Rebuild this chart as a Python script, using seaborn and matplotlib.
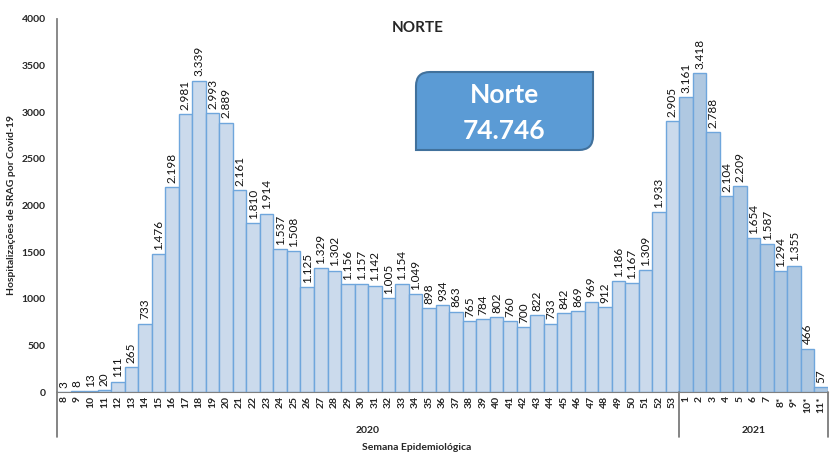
import matplotlib
matplotlib.use("Agg")
import matplotlib.pyplot as plt
from matplotlib.path import Path
from matplotlib.patches import PathPatch
import pandas as pd
import seaborn as sns

weeks_2020 = [str(w) for w in range(8, 54)]
values_2020 = [3, 8, 13, 20, 111, 265, 733, 1476, 2198, 2981, 3339, 2993, 2889,
               2161, 1810, 1914, 1537, 1508, 1125, 1329, 1302, 1156, 1157, 1142,
               1005, 1154, 1049, 898, 934, 863, 765, 784, 802, 760, 700, 822,
               733, 842, 869, 969, 912, 1186, 1167, 1309, 1933, 2905]
weeks_2021 = ["1", "2", "3", "4", "5", "6", "7", "8*", "9*", "10*", "11*"]
values_2021 = [3161, 3418, 2788, 2104, 2209, 1654, 1587, 1294, 1355, 466, 57]
total_label = "74.746"

df = pd.DataFrame({
    "semana": weeks_2020 + weeks_2021,
    "casos": values_2020 + values_2021,
    "ano": ["2020"] * len(weeks_2020) + ["2021"] * len(weeks_2021),
})

sns.set_style("white")
plt.rcParams["font.family"] = ["Lato", "DejaVu Sans"]

fig = plt.figure(figsize=(8.33, 4.62), dpi=100)
ax = fig.add_axes([0.0684, 0.1515, 0.9256, 0.8074])

sns.barplot(data=df, x="semana", y="casos", hue="ano", order=df["semana"],
            palette={"2020": "#c5daf1", "2021": "#a6c8ea"}, dodge=False,
            width=1.0, edgecolor="#6fa6dc", linewidth=1.0, legend=False, ax=ax)

for cont in ax.containers:
    ax.bar_label(cont, labels=[f"{int(v.get_height()):,}".replace(",", ".") for v in cont],
                 rotation=90, padding=3, fontsize=8.5, color="#111111")

ax.set_ylim(0, 4000)
ax.set_xlim(-0.5, len(df) - 0.5)
ax.set_yticks(range(0, 4001, 500))
ax.tick_params(axis="y", labelsize=7.5, length=0, pad=8)
ax.tick_params(axis="x", labelsize=7.5, length=0, rotation=90, pad=3)
for lab in ax.get_xticklabels() + ax.get_yticklabels():
    lab.set_fontweight("bold")
ax.set_xlabel("")
ax.set_ylabel("Hospitalizações de SRAG por Covid-19", fontsize=7.5, fontweight="bold")
ax.yaxis.set_label_coords(-0.053, 0.5)
for side in ["top", "right"]:
    ax.spines[side].set_visible(False)
ax.spines["left"].set_color("#808080")
ax.spines["bottom"].set_color("#808080")
ax.spines["left"].set_linewidth(1.3)

# year grouping under the category axis
n20 = len(weeks_2020)
for xv in [-0.5, n20 - 0.5, len(df) - 0.5]:
    ax.plot([xv, xv], [0, -0.12], transform=ax.get_xaxis_transform(),
            color="#707070", lw=1.2, clip_on=False)
ax.text((n20 - 1) / 2, -0.103, "2020", transform=ax.get_xaxis_transform(),
        ha="center", va="center", fontsize=7.5, fontweight="bold")
ax.text(n20 + (len(weeks_2021) - 1) / 2, -0.103, "2021", transform=ax.get_xaxis_transform(),
        ha="center", va="center", fontsize=7.5, fontweight="bold")
fig.text(0.5, 1 - 447 / 462, "Semana Epidemiológica", ha="center", va="center",
         fontsize=7.5, fontweight="bold")

fig.text(418 / 833, 1 - 28 / 462, "NORTE", ha="center", va="center",
         fontsize=11, fontweight="bold")

# total box: rounded top-left and bottom-right corners
x0, x1 = 416 / 833, 593 / 833
yb, yt = 1 - 150 / 462, 1 - 72 / 462
rx, ry = 14 / 833, 14 / 462
verts = [(x0 + rx, yt), (x1, yt), (x1, yb + ry), (x1, yb), (x1 - rx, yb),
         (x0, yb), (x0, yt - ry), (x0, yt), (x0 + rx, yt), (x0 + rx, yt)]
codes = [Path.MOVETO, Path.LINETO, Path.LINETO, Path.CURVE3, Path.CURVE3,
         Path.LINETO, Path.LINETO, Path.CURVE3, Path.CURVE3, Path.CLOSEPOLY]
fig.patches.append(PathPatch(Path(verts, codes), facecolor="#5b9bd5",
                             edgecolor="#41719c", lw=1.5, transform=fig.transFigure))
cx = (x0 + x1) / 2
fig.text(cx, 1 - 95 / 462, "Norte", ha="center", va="center", fontsize=19,
         fontweight="bold", color="white")
fig.text(cx, 1 - 131 / 462, total_label, ha="center", va="center", fontsize=19,
         fontweight="bold", color="white")

fig.savefig("out.png", dpi=100)
